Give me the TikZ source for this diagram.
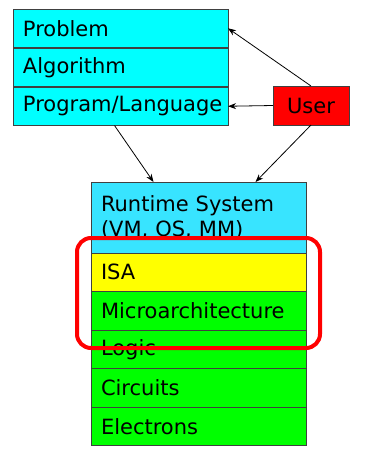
\documentclass[tikz,border=0pt]{standalone}
\usepackage{fontspec}
\setmainfont{DejaVu Sans}
\usepackage{tikz}
\usetikzlibrary{arrows.meta, positioning, fit, calc}
\definecolor{topcyan}{HTML}{00FFFF}
\definecolor{rtcyan}{HTML}{38E4FF}
\definecolor{isayellow}{HTML}{FFFF00}
\definecolor{hwgreen}{HTML}{00FF00}
\tikzset{
  layerbox/.style={
    rectangle, anchor=north west, outer sep=0pt,
    inner xsep=10pt, inner ysep=0pt,
    text width=195pt, align=left,
    minimum height=38.5pt,
    font=\fontsize{21}{25}\selectfont,
    draw=black!75, line width=0.8pt, fill=#1, text=black
  },
  userbox/.style={
    rectangle, anchor=north west, outer sep=0pt,
    minimum width=76pt, minimum height=39pt,
    font=\fontsize{21}{25}\selectfont,
    draw=black!75, line width=0.8pt, fill=red, text=black
  },
  layerarrow/.style={-{Stealth[length=8pt,width=6pt]}, line width=0.8pt, black},
  focusbox/.style={draw=red, line width=4pt, rounded corners=14pt,
    inner xsep=14pt, inner ysep=16.5pt, yshift=-1.5pt}
}
\begin{document}
\begin{tikzpicture}[x=1pt,y=-1pt]
  \useasboundingbox (0,0) rectangle (367,450);
  % software side
  \node[layerbox=topcyan](prob)at(13,9)   {Problem};
  \node[layerbox=topcyan](algo)at(13,48)  {Algorithm};
  \node[layerbox=topcyan](prog)at(13,87)  {Program/Language};
  \node[userbox](user)at(273,86) {User};
  % machine side
  \node[layerbox=rtcyan,minimum height=71pt,inner ysep=2pt](rts)at(91,182) {Runtime System\\(VM, OS, MM)};
  \node[layerbox=isayellow](isa)at(91,253)  {ISA};
  \node[layerbox=hwgreen](uarch)at(91,291.5){Microarchitecture};
  \node[layerbox=hwgreen](logic)at(91,330)  {Logic};
  \node[layerbox=hwgreen](circ)at(91,368.5) {Circuits};
  \node[layerbox=hwgreen](elec)at(91,407)   {Electrons};
  % arrows
  \draw[layerarrow](user.north)--(prob.east);
  \draw[layerarrow](user.west)--(prog.east);
  \draw[layerarrow]([xshift=-6pt]prog.south)--([xshift=-45pt]rts.north);
  \draw[layerarrow](user.south)--([xshift=57pt]rts.north);
  % highlight
  \node[focusbox,fit=(isa)(uarch)](focus){};
\end{tikzpicture}
\end{document}
